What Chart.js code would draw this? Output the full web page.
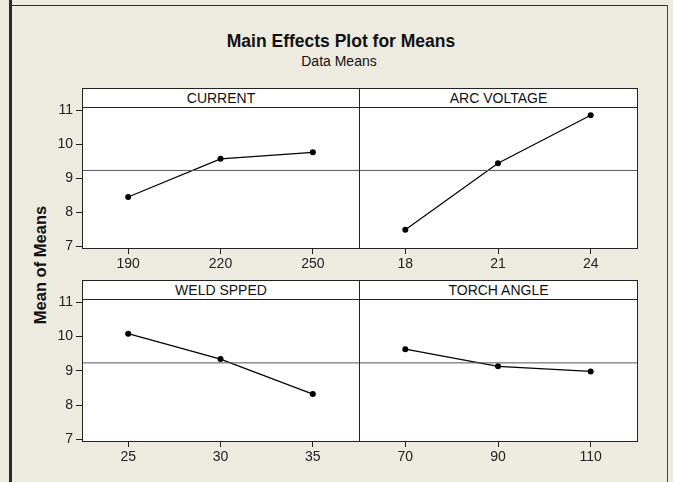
<!DOCTYPE html>
<html>
<head>
<meta charset="utf-8">
<script src="https://cdn.jsdelivr.net/npm/chart.js@4"></script>
<style>
  html, body { margin: 0; padding: 0; }
  body {
    width: 673px; height: 482px; overflow: hidden; position: relative;
    background: #edeae0; font-family: 'Liberation Sans', Arial, sans-serif; color: #111;
  }
  #edgeLeft { position: absolute; left: 9px; top: 0; width: 3px; height: 482px; background: #2a2a2a; }
  #edgeTop { position: absolute; left: 9px; top: 5px; width: 659px; height: 1px; background: #2a2a2a; }
  #edgeRight { position: absolute; left: 667px; top: 5px; width: 1px; height: 477px; background: #444; }
  #title { position: absolute; left: 0; width: 682px; top: 31px; text-align: center; font-weight: bold; font-size: 17.5px; }
  #subtitle { position: absolute; left: 0; width: 678px; top: 53px; text-align: center; font-size: 14px; }
  #yTitle {
    position: absolute; left: 40px; top: 265px; white-space: nowrap; font-weight: bold; font-size: 16.5px;
    transform: translate(-50%, -50%) rotate(-90deg);
  }
  canvas { position: absolute; }
  .head {
    position: absolute; box-sizing: border-box; height: 20px; border: 1px solid #222; background: #fff;
    text-align: center; font-size: 14px; line-height: 19px;
  }
</style>
</head>
<body>
<div id="edgeLeft"></div>
<div id="edgeTop"></div>
<div id="edgeRight"></div>
<div id="title">Main Effects Plot for Means</div>
<div id="subtitle">Data Means</div>
<div id="yTitle">Mean of Means</div>

<canvas id="c0" width="335" height="180" style="left:30px;top:100px"></canvas>
<canvas id="c1" width="290" height="180" style="left:353px;top:100px"></canvas>
<canvas id="c2" width="335" height="180" style="left:30px;top:293px"></canvas>
<canvas id="c3" width="290" height="180" style="left:353px;top:293px"></canvas>

<div class="head" id="h0" style="left:82px;top:88px;width:278px"></div>
<div class="head" id="h1" style="left:359px;top:88px;width:279px"></div>
<div class="head" id="h2" style="left:82px;top:280px;width:278px"></div>
<div class="head" id="h3" style="left:359px;top:280px;width:279px"></div>

<script>
'use strict'

/* global Chart */

const factors = ['CURRENT', 'ARC VOLTAGE', 'WELD SPPED', 'TORCH ANGLE']

const currentLevels = ['190', '220', '250']
const currentMeans = [8.45, 9.57, 9.76]

const arcLevels = ['18', '21', '24']
const arcMeans = [7.49, 9.44, 10.85]

const speedLevels = ['25', '30', '35']
const speedMeans = [10.08, 9.34, 8.32]

const angleLevels = ['70', '90', '110']
const angleMeans = [9.63, 9.13, 8.98]

const grandMean = 9.23
const yTicks = [7, 8, 9, 10, 11]

const levels = [currentLevels, arcLevels, speedLevels, angleLevels]
const means = [currentMeans, arcMeans, speedMeans, angleMeans]

const fontSpec = { family: "'Liberation Sans', Arial, sans-serif", size: 14 }

// white plot area with a dark frame round it
const framePlugin = {
  id: 'frame',
  beforeDraw (chart) {
    const a = chart.chartArea
    const ctx = chart.ctx
    ctx.save()
    ctx.fillStyle = '#ffffff'
    ctx.fillRect(a.left, a.top, a.right - a.left, a.bottom - a.top)
    ctx.restore()
  },
  afterDraw (chart) {
    const a = chart.chartArea
    const ctx = chart.ctx
    ctx.save()
    ctx.strokeStyle = '#222'
    ctx.lineWidth = 1
    ctx.strokeRect(Math.round(a.left) + 0.5, Math.round(a.top) + 0.5,
      Math.round(a.right - a.left), Math.round(a.bottom - a.top))
    ctx.restore()
  }
}

function makePanel (i) {
  const isLeft = i % 2 === 0
  const labels = levels[i]
  const points = means[i].map((v, k) => ({ x: k, y: v }))

  document.getElementById('h' + i).textContent = factors[i]

  return new Chart(document.getElementById('c' + i), {
    type: 'line',
    data: {
      datasets: [{
        data: [{ x: -0.5, y: grandMean }, { x: 2.5, y: grandMean }],
        borderColor: '#555',
        borderWidth: 1,
        pointRadius: 0
      }, {
        data: points,
        borderColor: '#000',
        borderWidth: 1.2,
        pointRadius: 3,
        pointBackgroundColor: '#000',
        pointBorderColor: '#000',
        pointBorderWidth: 0
      }]
    },
    options: {
      responsive: false,
      animation: false,
      events: [],
      layout: { padding: { top: i < 2 ? 7 : 6, right: 6, bottom: 0, left: isLeft ? 0 : 6 } },
      plugins: { legend: { display: false }, tooltip: { enabled: false } },
      scales: {
        x: {
          type: 'linear',
          min: -0.5,
          max: 2.5,
          afterBuildTicks (scale) { scale.ticks = [0, 1, 2].map(v => ({ value: v })) },
          afterFit (scale) {
            scale.height = 32
            scale.paddingLeft = 0
            scale.paddingRight = 0
          },
          grid: { drawOnChartArea: false, drawTicks: true, tickLength: 6, color: '#222' },
          border: { display: false },
          ticks: {
            font: fontSpec,
            color: '#222',
            padding: 2,
            maxRotation: 0,
            callback: (v) => labels[v]
          }
        },
        y: {
          display: isLeft,
          min: 6.955,
          max: 11.09,
          afterBuildTicks (scale) { scale.ticks = yTicks.map(v => ({ value: v })) },
          afterFit (scale) {
            scale.width = isLeft ? 52 : 0
            // tick labels may spill into the header strip, no extra room needed
            scale.paddingTop = 0
            scale.paddingBottom = 0
          },
          grid: { drawOnChartArea: false, drawTicks: true, tickLength: 6, color: '#222' },
          border: { display: false },
          ticks: { font: fontSpec, color: '#222', padding: 3 }
        }
      }
    },
    plugins: [framePlugin]
  })
}

for (let i = 0; i < 4; i++) {
  makePanel(i)
}
</script>
</body>
</html>
